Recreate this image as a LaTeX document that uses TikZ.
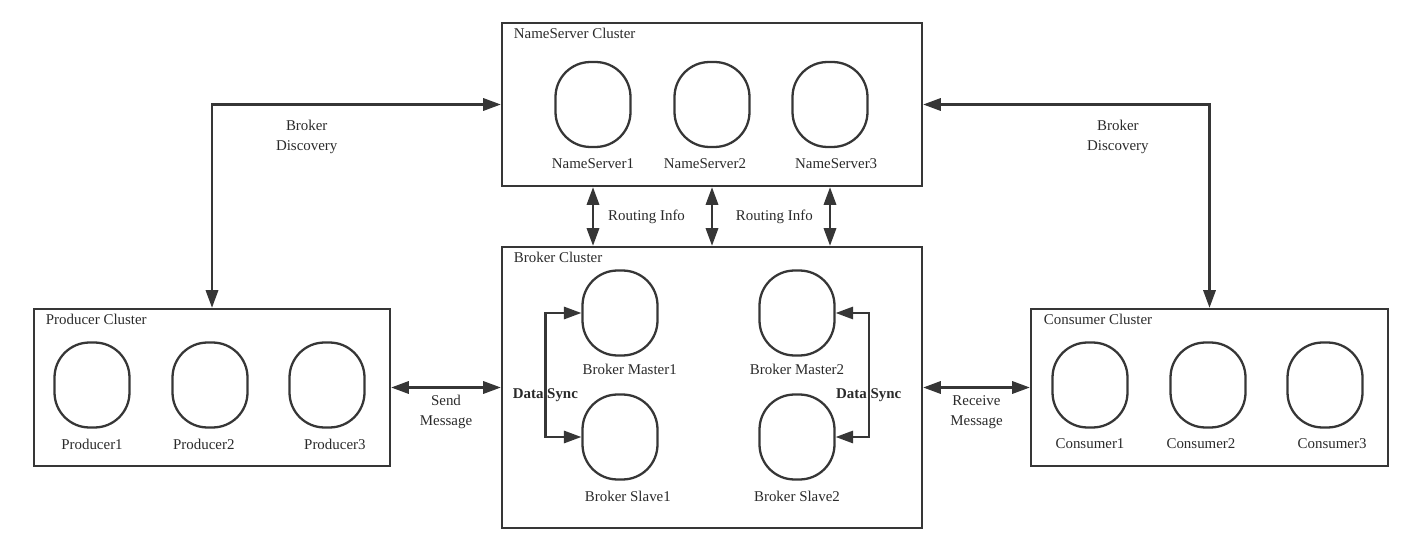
\documentclass[tikz,border=0pt]{standalone}
\usepackage{fontspec}
\setmainfont{Liberation Serif}
\usetikzlibrary{positioning,arrows.meta,calc}
\definecolor{line-gray}{HTML}{363636}
\definecolor{text-gray}{HTML}{2A2A2A}
\tikzset{
    cluster-box/.style = {draw=line-gray, line width=1.4pt, rectangle, inner sep=0pt},
    cluster-title/.style = {text=text-gray, anchor=west, inner sep=1pt, font=\fontsize{8.5}{11.3}\selectfont},
    server-node/.style = {draw=line-gray, line width=1.3pt, rectangle, rounded corners=0.7cm, minimum width=1.5cm, minimum height=1.7cm, inner sep=0pt},
    server-label/.style = {text=text-gray, inner sep=1pt, font=\fontsize{8.5}{11.3}\selectfont},
    link-label/.style = {text=text-gray, inner sep=1pt, align=center, font=\fontsize{8.5}{11.3}\selectfont},
    sync-label/.style = {link-label, font=\fontsize{8.5}{11.3}\selectfont\bfseries},
    two-way/.style = {draw=line-gray, line width=1.3pt, {Triangle[length=10pt,width=7pt]}-{Triangle[length=10pt,width=7pt]}},
}

\begin{document}
\begin{tikzpicture}[x=0.02cm, y=-0.02cm]
\useasboundingbox (0,0) rectangle (1413,547);

% clusters
\node[cluster-box, minimum width=8.4cm, minimum height=3.26cm] (nameserver) at (712,104.5) {};
\node[cluster-box, minimum width=8.4cm, minimum height=5.62cm] (broker) at (712,387.5) {};
\node[cluster-box, minimum width=7.12cm, minimum height=3.14cm] (producer) at (212,387.5) {};
\node[cluster-box, minimum width=7.14cm, minimum height=3.14cm] (consumer) at (1209.5,387.5) {};

\node[cluster-title] (nameserver-title) at ($(nameserver.north west)+(11,12)$) {NameServer Cluster};
\node[cluster-title] (broker-title) at ($(broker.north west)+(11,12)$) {Broker Cluster};
\node[cluster-title] (producer-title) at ($(producer.north west)+(11,12)$) {Producer Cluster};
\node[cluster-title] (consumer-title) at ($(consumer.north west)+(12,12)$) {Consumer Cluster};

% name servers
\node[server-node] (ns1) at (593,104.5) {};
\node[server-node] (ns2) at (712,104.5) {};
\node[server-node] (ns3) at (830,104.5) {};
\node[server-label, below=4.7pt of ns1] (ns1-label) {NameServer1};
\node[server-label, below=4.7pt of ns2, xshift=-4pt] (ns2-label) {NameServer2};
\node[server-label, below=4.7pt of ns3, xshift=3.5pt] (ns3-label) {NameServer3};

% brokers
\node[server-node] (master1) at (620,313) {};
\node[server-node] (slave1) at (620,437) {};
\node[server-node] (master2) at (797,313) {};
\node[server-node] (slave2) at (797,437) {};
\node[server-label, below=2.9pt of master1, xshift=5.5pt] (master1-label) {Broker Master1};
\node[server-label, below=4.7pt of slave1, xshift=4.5pt] (slave1-label) {Broker Slave1};
\node[server-label, below=2.9pt of master2] (master2-label) {Broker Master2};
\node[server-label, below=4.7pt of slave2] (slave2-label) {Broker Slave2};

% producers and consumers
\node[server-node] (producer1) at (92,385) {};
\node[server-node] (producer2) at (210,385) {};
\node[server-node] (producer3) at (327,385) {};
\node[server-label, below=4.7pt of producer1] (producer1-label) {Producer1};
\node[server-label, below=4.7pt of producer2, xshift=-3.5pt] (producer2-label) {Producer2};
\node[server-label, below=4.7pt of producer3, xshift=4.5pt] (producer3-label) {Producer3};

\node[server-node] (consumer1) at (1090,385) {};
\node[server-node] (consumer2) at (1208,385) {};
\node[server-node] (consumer3) at (1325,385) {};
\node[server-label, below=4.7pt of consumer1] (consumer1-label) {Consumer1};
\node[server-label, below=4.7pt of consumer2, xshift=-4pt] (consumer2-label) {Consumer2};
\node[server-label, below=4.7pt of consumer3, xshift=4pt] (consumer3-label) {Consumer3};

% connectors
\draw[two-way] (producer.north) |- node[link-label, pos=0.664, below=7.4pt] (discovery-left) {Broker\\Discovery} (nameserver.west);
\draw[two-way] (consumer.north) |- node[link-label, pos=0.66, below=7.4pt] (discovery-right) {Broker\\Discovery} (nameserver.east);

\draw[two-way] (nameserver.south -| ns1) -- node[link-label, right=7pt] (routing-left) {Routing Info} (broker.north -| ns1);
\draw[two-way] (nameserver.south -| ns2) -- node[link-label, right=12pt] (routing-right) {Routing Info} (broker.north -| ns2);
\draw[two-way] (nameserver.south -| ns3) -- (broker.north -| ns3);

\draw[two-way] (producer.east) -- node[link-label, below=2.8pt] (send-label) {Send\\Message} (broker.west);
\draw[two-way] (broker.east) -- node[link-label, below=2.8pt] (receive-label) {Receive\\Message} (consumer.west);

\draw[two-way] (master1.west) -- ++(-36,0) |- node[sync-label, pos=0.33] (sync-left) {Data Sync} (slave1.west);
\draw[two-way] (master2.east) -- ++(33,0) |- node[sync-label, pos=0.33] (sync-right) {Data Sync} (slave2.east);
\end{tikzpicture}
\end{document}
